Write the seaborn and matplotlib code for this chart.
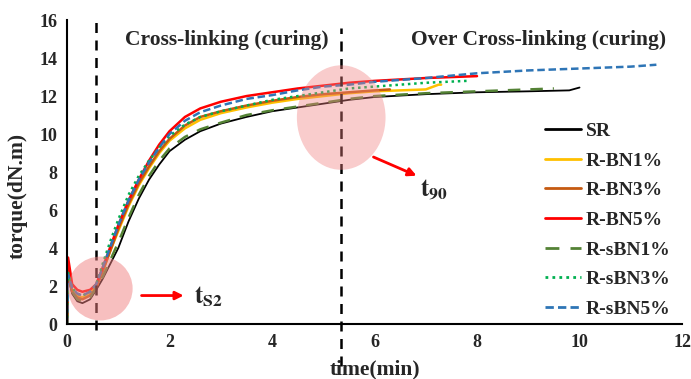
import numpy as np
import pandas as pd
import matplotlib
matplotlib.use("Agg")
import matplotlib.pyplot as plt
import seaborn as sns
from matplotlib.patches import Ellipse
from matplotlib.lines import Line2D

# --- data ---
t_sr = [0, 0.02, 0.1, 0.2, 0.3, 0.45, 0.57, 0.7, 0.85, 1.0, 1.2, 1.4, 1.6, 1.8, 2.0, 2.3, 2.6, 3.0, 3.5,
        4.0, 4.5, 5.0, 5.5, 6.0, 7.0, 8.0, 9.0, 9.8, 10.0]
sr = [0, 2.5, 1.6, 1.2, 1.1, 1.3, 1.8, 2.4, 3.2, 4.0, 5.4, 6.6, 7.6, 8.4, 9.1, 9.7, 10.15, 10.55, 10.9,
      11.2, 11.4, 11.6, 11.8, 11.95, 12.1, 12.2, 12.25, 12.3, 12.45]

t_bn1 = [0, 0.02, 0.1, 0.2, 0.3, 0.45, 0.57, 0.7, 0.85, 1.0, 1.2, 1.4, 1.6, 1.8, 2.0, 2.3, 2.6, 3.0, 3.5,
         4.0, 4.5, 5.0, 5.5, 6.0, 7.0, 7.25, 7.3]
bn1 = [0, 2.8, 1.8, 1.5, 1.4, 1.6, 2.0, 2.8, 3.9, 4.9, 6.2, 7.3, 8.2, 9.0, 9.65, 10.3, 10.75, 11.1, 11.4,
       11.65, 11.85, 12.0, 12.15, 12.25, 12.35, 12.6, 12.6]

t_bn3 = [0, 0.02, 0.1, 0.2, 0.3, 0.45, 0.57, 0.7, 0.85, 1.0, 1.2, 1.4, 1.6, 1.8, 2.0, 2.3, 2.6, 3.0, 3.5,
         4.0, 4.5, 5.0, 5.5, 6.0, 6.3]
bn3 = [0, 2.6, 1.7, 1.4, 1.3, 1.5, 1.9, 2.8, 3.9, 5.0, 6.3, 7.4, 8.3, 9.1, 9.75, 10.45, 10.9, 11.2, 11.5,
       11.75, 11.95, 12.1, 12.2, 12.3, 12.35]

t_bn5 = [0, 0.02, 0.1, 0.2, 0.3, 0.45, 0.57, 0.7, 0.85, 1.0, 1.2, 1.4, 1.6, 1.8, 2.0, 2.3, 2.6, 3.0, 3.5,
         4.0, 4.5, 5.0, 5.5, 6.0, 7.0, 8.0]
bn5 = [0, 3.5, 2.1, 1.8, 1.7, 1.8, 2.1, 3.0, 4.1, 5.2, 6.5, 7.6, 8.6, 9.45, 10.15, 10.9, 11.35, 11.7, 12.0,
       12.2, 12.4, 12.55, 12.7, 12.8, 12.95, 13.05]

t_sbn1 = [0, 0.02, 0.1, 0.2, 0.3, 0.45, 0.57, 0.7, 0.85, 1.0, 1.2, 1.4, 1.6, 1.8, 2.0, 2.3, 2.6, 3.0, 3.5,
          4.0, 4.5, 5.0, 5.5, 6.0, 7.0, 8.0, 9.0, 9.5]
sbn1 = [0, 2.6, 1.7, 1.3, 1.2, 1.4, 1.9, 2.5, 3.4, 4.3, 5.6, 6.8, 7.8, 8.6, 9.25, 9.85, 10.25, 10.6, 11.0,
        11.25, 11.45, 11.65, 11.85, 12.0, 12.15, 12.25, 12.35, 12.4]

t_sbn3 = [0, 0.02, 0.1, 0.2, 0.3, 0.45, 0.57, 0.7, 0.85, 1.0, 1.2, 1.4, 1.6, 1.8, 2.0, 2.3, 2.6, 3.0, 3.5,
          4.0, 4.5, 5.0, 5.5, 6.0, 7.0, 7.8]
sbn3 = [0, 2.7, 1.9, 1.6, 1.5, 1.7, 2.1, 3.2, 4.4, 5.5, 6.8, 7.8, 8.6, 9.3, 9.9, 10.5, 10.9, 11.2, 11.5,
        11.8, 12.0, 12.2, 12.4, 12.5, 12.7, 12.8]

t_sbn5 = [0, 0.02, 0.1, 0.2, 0.3, 0.45, 0.57, 0.7, 0.85, 1.0, 1.2, 1.4, 1.6, 1.8, 2.0, 2.3, 2.6, 3.0, 3.5,
          4.0, 4.5, 5.0, 5.5, 6.0, 7.0, 8.0, 9.0, 10.0, 11.0, 11.5]
sbn5 = [0, 2.6, 1.9, 1.6, 1.5, 1.7, 2.1, 3.0, 4.1, 5.2, 6.5, 7.6, 8.5, 9.3, 10.0, 10.7, 11.15, 11.5, 11.85,
        12.05, 12.3, 12.5, 12.6, 12.75, 12.95, 13.2, 13.35, 13.45, 13.55, 13.65]

labels = ["SR", "R-BN1%", "R-BN3%", "R-BN5%", "R-sBN1%", "R-sBN3%", "R-sBN5%"]
times = [t_sr, t_bn1, t_bn3, t_bn5, t_sbn1, t_sbn3, t_sbn5]
torques = [sr, bn1, bn3, bn5, sbn1, sbn3, sbn5]
colors = ["#000000", "#FFC000", "#C55A11", "#FF0000", "#548235", "#00B050", "#2E75B6"]
styles = ["-", "-", "-", "-", (0, (5, 4)), (0, (1, 1.5)), (0, (3, 1.5))]
widths = [1.3, 1.8, 1.8, 1.8, 1.8, 1.8, 1.8]

t_s2 = 0.57
t_90 = 5.35

sns.set_style("white")
plt.rcParams["font.family"] = ["Liberation Serif", "DejaVu Serif"]
plt.rcParams["font.weight"] = "bold"
plt.rcParams["mathtext.fontset"] = "stix"

fig = plt.figure(figsize=(6.91, 3.79), dpi=100)
ax = fig.add_axes([0.097, 0.145, 0.89, 0.802])

for t, y, c, ls, lw in zip(times, torques, colors, styles, widths):
    sns.lineplot(x=t, y=y, ax=ax, color=c, linestyle=ls, linewidth=lw, sort=False, estimator=None)

ax.set_xlim(0, 12)
ax.set_ylim(0, 16)
ax.set_xticks(range(0, 13, 2))
ax.set_yticks(range(0, 17, 2))
ax.tick_params(length=0, labelsize=13, pad=7)
for lab in ax.get_xticklabels() + ax.get_yticklabels():
    lab.set_fontweight("bold")
sns.despine(ax=ax)
for s in ["left", "bottom"]:
    ax.spines[s].set_color("black")
    ax.spines[s].set_linewidth(1.5)

ax.set_xlabel("time(min)", fontsize=15.5, fontweight="bold", labelpad=6)
ax.set_ylabel("torque(dN.m)", fontsize=15.5, fontweight="bold")
ax.yaxis.set_label_coords(-0.064, 0.42)

# phase boundaries
ax.plot([t_s2, t_s2], [-0.3, 16], color="black", linestyle=(0, (4, 3)), linewidth=1.8, clip_on=False)
ax.plot([t_90, t_90], [-2.2, 15.6], color="black", linestyle=(0, (4, 3)), linewidth=1.8, clip_on=False)

ax.text(3.12, 14.95, "Cross-linking (curing)", fontsize=15.5, fontweight="bold", ha="center", va="center")
ax.text(9.2, 14.95, "Over Cross-linking (curing)", fontsize=15.5, fontweight="bold", ha="center", va="center")

# highlight circles
ax.add_patch(Ellipse((0.65, 1.87), 1.26, 3.36, color="#F08080", alpha=0.5, lw=0, zorder=5))
ax.add_patch(Ellipse((5.35, 10.87), 1.73, 5.5, color="#F08080", alpha=0.4, lw=0, zorder=5))

ax.annotate("", xy=(2.33, 1.5), xytext=(1.4, 1.5),
            arrowprops=dict(arrowstyle="-|>", color="#FF0000", lw=2, mutation_scale=12))
ax.text(2.48, 1.45, r"$\mathbf{t}_{\mathrm{S2}}$", fontsize=18, ha="left", va="center")
ax.annotate("", xy=(6.87, 7.75), xytext=(5.93, 8.85),
            arrowprops=dict(arrowstyle="-|>", color="#FF0000", lw=2, mutation_scale=12))
ax.text(6.88, 7.1, r"$\mathbf{t}_{\mathrm{90}}$", fontsize=18, ha="left", va="center")

handles = [Line2D([0], [0], color=c, linestyle=ls, linewidth=2) for c, ls in zip(colors, styles)]
ax.legend(handles, labels, loc="upper left", bbox_to_anchor=(0.752, 0.715), frameon=False,
          handlelength=1.85, labelspacing=0.62, handletextpad=0.25, borderpad=0.3,
          prop={"weight": "bold", "size": 14})

fig.savefig("out.png", dpi=100)
